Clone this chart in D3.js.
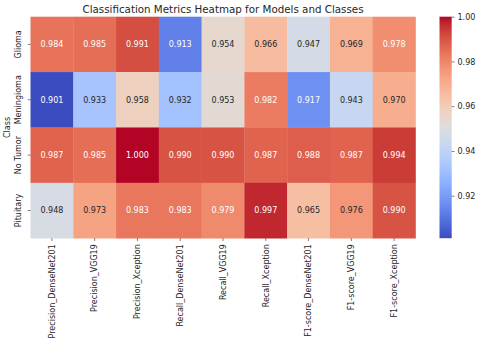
<!DOCTYPE html>
<html>
<head>
<meta charset="utf-8">
<script src="https://cdn.jsdelivr.net/npm/d3@7"></script>
<style>
  body { margin: 0; background: #fff; }
  text { font-family: "DejaVu Sans", sans-serif; fill: #262626; }
</style>
</head>
<body>
<svg width="480" height="343"></svg>
<script>
var classes = ["Glioma", "Meningioma", "No Tumor", "Pituitary"];
var metrics = ["Precision_DenseNet201", "Precision_VGG19", "Precision_Xception",
               "Recall_DenseNet201", "Recall_VGG19", "Recall_Xception",
               "F1-score_DenseNet201", "F1-score_VGG19", "F1-score_Xception"];
var glioma     = [0.984, 0.985, 0.991, 0.913, 0.954, 0.966, 0.947, 0.969, 0.978];
var meningioma = [0.901, 0.933, 0.958, 0.932, 0.953, 0.982, 0.917, 0.943, 0.970];
var noTumor    = [0.987, 0.985, 1.000, 0.990, 0.990, 0.987, 0.988, 0.987, 0.994];
var pituitary  = [0.948, 0.973, 0.983, 0.983, 0.979, 0.997, 0.965, 0.976, 0.990];
var cbarTicks  = [0.92, 0.94, 0.96, 0.98, 1.00];

var rows = [glioma, meningioma, noTumor, pituitary];

// matplotlib coolwarm (Moreland table)
var coolwarm = [[59,76,192],[68,90,204],[77,104,215],[87,117,225],[98,130,234],[108,142,241],
  [119,154,247],[130,165,251],[141,176,254],[152,185,255],[163,194,255],[174,201,253],
  [184,208,249],[194,213,244],[204,217,238],[213,219,230],[221,221,221],[229,216,209],
  [236,211,197],[241,204,184],[245,196,172],[247,187,159],[247,177,147],[247,166,134],
  [244,154,123],[241,141,111],[236,127,99],[229,112,88],[222,96,77],[213,80,66],
  [203,62,56],[192,40,47],[180,4,38]].map(function(c) { return d3.rgb(c[0], c[1], c[2]); });
var interp = d3.piecewise(d3.interpolateRgb, coolwarm);

var cells = [];
rows.forEach(function(r, i) {
  r.forEach(function(v, j) { cells.push({row: classes[i], col: metrics[j], value: v}); });
});
var vmin = d3.min(cells, function(d) { return d.value; });
var vmax = d3.max(cells, function(d) { return d.value; });
var color = d3.scaleSequential(interp).domain([vmin, vmax]);

var svg = d3.select("svg");
var mLeft = 30.5, mRight = 415.5, mTop = 16.7, mBottom = 238.2;

var x = d3.scaleBand().domain(metrics).range([mLeft, mRight]);
var y = d3.scaleBand().domain(classes).range([mTop, mBottom]);

function luminance(c) {
  c = d3.rgb(c);
  var f = function(v) { v /= 255; return v <= 0.03928 ? v / 12.92 : Math.pow((v + 0.055) / 1.055, 2.4); };
  return 0.2126 * f(c.r) + 0.7152 * f(c.g) + 0.0722 * f(c.b);
}

svg.append("text")
  .attr("x", (mLeft + mRight) / 2).attr("y", 12.8)
  .attr("text-anchor", "middle")
  .style("font-size", "10.3px")
  .text("Classification Metrics Heatmap for Models and Classes");

var g = svg.append("g");
g.selectAll("rect").data(cells).enter().append("rect")
  .attr("x", function(d) { return x(d.col); })
  .attr("y", function(d) { return y(d.row); })
  .attr("width", x.bandwidth() + 0.3)
  .attr("height", y.bandwidth() + 0.3)
  .attr("fill", function(d) { return color(d.value); });

g.selectAll("text.ann").data(cells).enter().append("text")
  .attr("class", "ann")
  .attr("x", function(d) { return x(d.col) + x.bandwidth() / 2; })
  .attr("y", function(d) { return y(d.row) + y.bandwidth() / 2; })
  .attr("dy", "0.35em")
  .attr("text-anchor", "middle")
  .style("font-size", "8px")
  .style("fill", function(d) { return luminance(color(d.value)) > 0.408 ? "#262626" : "#ffffff"; })
  .text(function(d) { return d.value.toFixed(3); });

// x axis
var xAxis = svg.append("g").attr("transform", "translate(0," + mBottom + ")")
  .call(d3.axisBottom(x).tickSize(2.8).tickPadding(3));
xAxis.select(".domain").remove();
xAxis.selectAll("line").attr("stroke", "#262626").attr("stroke-width", 0.6);
xAxis.selectAll("text")
  .attr("transform", "rotate(-90)")
  .attr("text-anchor", "end")
  .attr("x", -6).attr("y", 0).attr("dy", "0.35em")
  .style("font-size", "8px").attr("font-family", null);

// y axis
var yAxis = svg.append("g").attr("transform", "translate(" + mLeft + ",0)")
  .call(d3.axisLeft(y).tickSize(2.8).tickPadding(3));
yAxis.select(".domain").remove();
yAxis.selectAll("line").attr("stroke", "#262626").attr("stroke-width", 0.6);
yAxis.selectAll(".tick text")
  .attr("transform", "rotate(-90)")
  .attr("text-anchor", "middle")
  .attr("x", 0).attr("y", -10).attr("dy", 0)
  .style("font-size", "8px").attr("font-family", null);

svg.append("text")
  .attr("transform", "translate(10," + ((mTop + mBottom) / 2) + ") rotate(-90)")
  .attr("text-anchor", "middle")
  .style("font-size", "8px")
  .text("Class");

// colorbar
var cbX = 439.5, cbW = 12.2;
var cy = d3.scaleLinear().domain([vmin, vmax]).range([mBottom, mTop]);
var defs = svg.append("defs");
var grad = defs.append("linearGradient").attr("id", "cb")
  .attr("x1", 0).attr("y1", 1).attr("x2", 0).attr("y2", 0);
d3.range(0, 1.0001, 1 / 32).forEach(function(t) {
  grad.append("stop").attr("offset", t).attr("stop-color", interp(t));
});
svg.append("rect").attr("x", cbX).attr("y", mTop)
  .attr("width", cbW).attr("height", mBottom - mTop)
  .attr("fill", "url(#cb)");
var cAxis = svg.append("g").attr("transform", "translate(" + (cbX + cbW) + ",0)")
  .call(d3.axisRight(cy).tickValues(cbarTicks).tickFormat(d3.format(".2f")).tickSize(2.8).tickPadding(3));
cAxis.select(".domain").remove();
cAxis.selectAll("line").attr("stroke", "#262626").attr("stroke-width", 0.6);
cAxis.selectAll("text").style("font-size", "8px").attr("font-family", null);
</script>
</body>
</html>
